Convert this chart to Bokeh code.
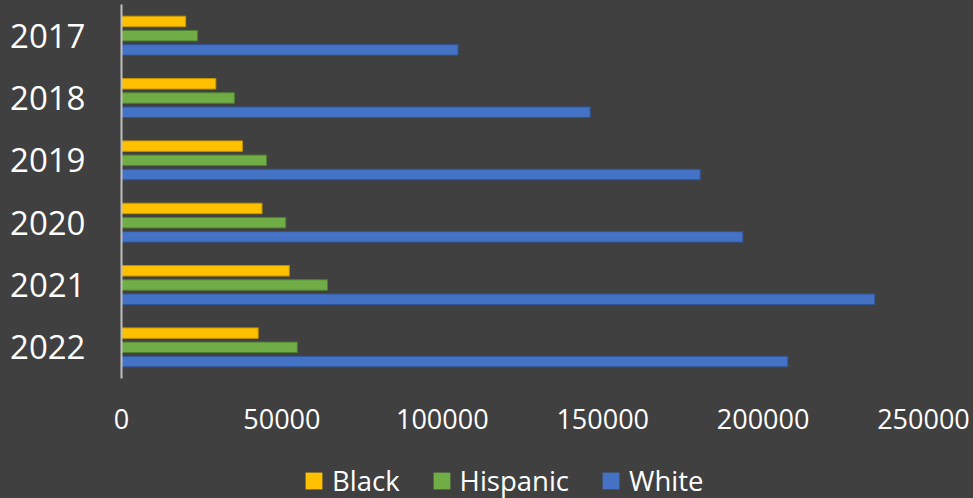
from bokeh.plotting import figure
from bokeh.models import FactorRange, Range1d, SingleIntervalTicker, BasicTickFormatter, Legend, LegendItem
from bokeh.layouts import column
from bokeh.transform import dodge
from bokeh.embed import file_html
from bokeh.resources import INLINE

years = ["2017", "2018", "2019", "2020", "2021", "2022"]
black = [20000, 29400, 37700, 43800, 52300, 42600]
hispanic = [23700, 35200, 45200, 51200, 64200, 54800]
white = [104900, 146100, 180400, 193700, 234800, 207700]

series = [
    ("Black", black, "#FFC000", "#C49400", 0.228),
    ("Hispanic", hispanic, "#70AD47", "#4F7F31", 0.0),
    ("White", white, "#4472C4", "#2F5597", -0.228),
]

BG = "#404040"
FONT = "Open Sans"

p = figure(
    width=973, height=458,
    y_range=FactorRange(factors=years[::-1], range_padding=0),
    x_range=Range1d(0, 250000),
    output_backend="svg", toolbar_location=None,
    background_fill_color=BG, border_fill_color=BG,
    min_border_left=121, min_border_right=50, min_border_top=4, min_border_bottom=80,
)
p.outline_line_color = None
p.xgrid.grid_line_color = None
p.ygrid.grid_line_color = None

for name, vals, fill, line, off in series:
    src = {"year": years, "val": vals}
    p.hbar(y=dodge("year", off, range=p.y_range), left=0, right="val", height=0.168,
           source=src, fill_color=fill, line_color=line, line_width=1)

p.xaxis.ticker = SingleIntervalTicker(interval=50000)
p.xaxis.formatter = BasicTickFormatter(use_scientific=False)
p.xaxis.axis_line_color = None
p.xaxis.major_tick_line_color = None
p.xaxis.minor_tick_line_color = None
p.xaxis.major_label_text_font = FONT
p.xaxis.major_label_text_font_size = "27px"
p.xaxis.major_label_text_color = "#ffffff"
p.xaxis.major_label_standoff = 24

p.yaxis.axis_line_color = "#bfbfbf"
p.yaxis.axis_line_width = 2
p.yaxis.major_tick_line_color = None
p.yaxis.minor_tick_line_color = None
p.yaxis.major_label_text_font = FONT
p.yaxis.major_label_text_font_size = "33px"
p.yaxis.major_label_text_color = "#ffffff"
p.yaxis.major_label_standoff = 30

# legend strip below the chart
p2 = figure(
    width=973, height=40, x_range=Range1d(0, 1), y_range=Range1d(0, 1),
    output_backend="svg", toolbar_location=None,
    background_fill_color=BG, border_fill_color=BG,
    min_border=0,
)
p2.axis.visible = False
p2.grid.visible = False
p2.outline_line_color = None

items = []
for name, vals, fill, line, off in series:
    r = p2.rect(x=[0.5], y=[0.5], width=0.1, height=0.1, fill_color=fill, line_color=None, visible=False)
    items.append(LegendItem(label=name, renderers=[r]))

lg = Legend(items=items, orientation="horizontal", location=(182, -1))
lg.background_fill_alpha = 0
lg.border_line_alpha = 0
lg.inactive_fill_alpha = 0
lg.padding = 0
lg.margin = 0
lg.spacing = 31
lg.glyph_width = 21
lg.glyph_height = 21
lg.label_standoff = 8
lg.label_text_font = FONT
lg.label_text_font_size = "27.5px"
lg.label_text_color = "#ffffff"
p2.add_layout(lg, "center")

layout = column(p, p2, spacing=0)

html = file_html(layout, INLINE)
html = html.replace("<head>", "<head><style>html,body{background:#404040;}</style>", 1)
open("out.html", "w").write(html)
